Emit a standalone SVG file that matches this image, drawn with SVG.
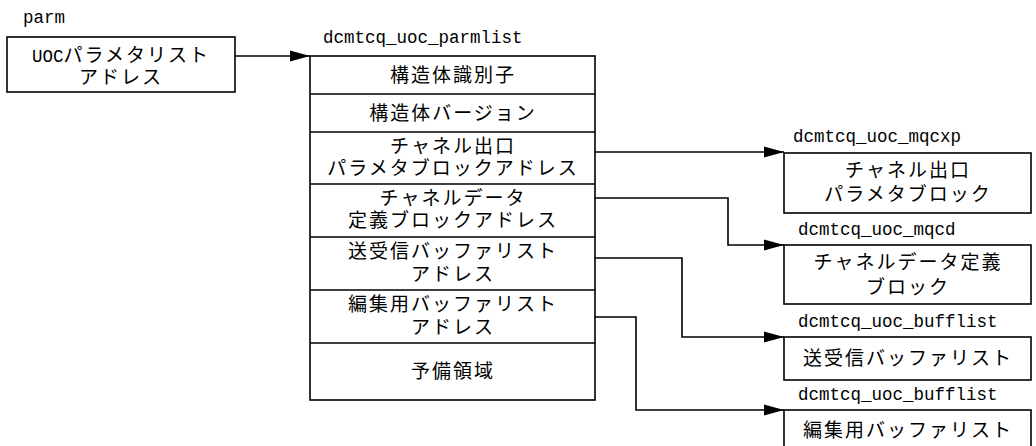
<svg xmlns="http://www.w3.org/2000/svg" width="1036" height="446" viewBox="0 0 1036 446">
<style>
.box{fill:#fff;stroke:#000;stroke-width:1.6}
.ln{fill:none;stroke:#000;stroke-width:1.6}
.jp{font-family:"Noto Sans CJK JP","Noto Sans CJK SC",sans-serif;font-size:19px;letter-spacing:2px;fill:#000;text-anchor:middle}
.lat{font-family:"Liberation Mono","DejaVu Sans Mono",monospace;font-size:17.5px;fill:#000}
.m{font-family:"Liberation Mono","DejaVu Sans Mono",monospace;font-size:17.5px;letter-spacing:0}
</style>
<defs>
<marker id="ah" markerUnits="userSpaceOnUse" markerWidth="20" markerHeight="12" refX="20" refY="6" orient="auto">
<path d="M0,0.5 L20,6 L0,11.5 Z" fill="#000"/>
</marker>
</defs>
<rect width="1036" height="446" fill="#fff"/>

<g id="parm">
<text class="lat" x="23" y="23">parm</text>
<rect class="box" x="7" y="37" width="228" height="55"/>
<text class="jp" x="121" y="62"><tspan class="m">UOC</tspan>パラメタリスト</text>
<text class="jp" x="121" y="84">アドレス</text>
</g>

<g id="parmlist">
<text class="lat" x="323" y="43">dcmtcq_uoc_parmlist</text>
<rect class="box" x="310" y="56" width="285" height="344"/>
<path class="ln" d="M310,94H595M310,132H595M310,184H595M310,237H595M310,290H595M310,343H595"/>
<text class="jp" x="453" y="82">構造体識別子</text>
<text class="jp" x="453" y="120">構造体バージョン</text>
<text class="jp" x="453" y="153">チャネル出口</text>
<text class="jp" x="453" y="175">パラメタブロックアドレス</text>
<text class="jp" x="453" y="205">チャネルデータ</text>
<text class="jp" x="453" y="227">定義ブロックアドレス</text>
<text class="jp" x="453" y="258">送受信バッファリスト</text>
<text class="jp" x="453" y="281">アドレス</text>
<text class="jp" x="453" y="311">編集用バッファリスト</text>
<text class="jp" x="453" y="334">アドレス</text>
<text class="jp" x="453" y="378">予備領域</text>
</g>

<g id="mqcxp">
<text class="lat" x="793" y="142">dcmtcq_uoc_mqcxp</text>
<rect class="box" x="784" y="153" width="247" height="60"/>
<text class="jp" x="908" y="177">チャネル出口</text>
<text class="jp" x="908" y="201">パラメタブロック</text>
</g>

<g id="mqcd">
<text class="lat" x="798" y="235">dcmtcq_uoc_mqcd</text>
<rect class="box" x="784" y="245" width="247" height="59"/>
<text class="jp" x="908" y="269">チャネルデータ定義</text>
<text class="jp" x="908" y="294">ブロック</text>
</g>

<g id="bufflist1">
<text class="lat" x="798" y="327">dcmtcq_uoc_bufflist</text>
<rect class="box" x="784" y="337" width="247" height="43"/>
<text class="jp" x="908" y="365">送受信バッファリスト</text>
</g>

<g id="bufflist2">
<text class="lat" x="798" y="400">dcmtcq_uoc_bufflist</text>
<rect class="box" x="784" y="410" width="247" height="50"/>
<text class="jp" x="908" y="437">編集用バッファリスト</text>
</g>

<g id="connectors">
<path class="ln" d="M235,56H310" marker-end="url(#ah)"/>
<path class="ln" d="M595,152H784" marker-end="url(#ah)"/>
<path class="ln" d="M595,198H728V245H784" marker-end="url(#ah)"/>
<path class="ln" d="M595,258H682V337H784" marker-end="url(#ah)"/>
<path class="ln" d="M595,317H636V410H784" marker-end="url(#ah)"/>
</g>
</svg>
